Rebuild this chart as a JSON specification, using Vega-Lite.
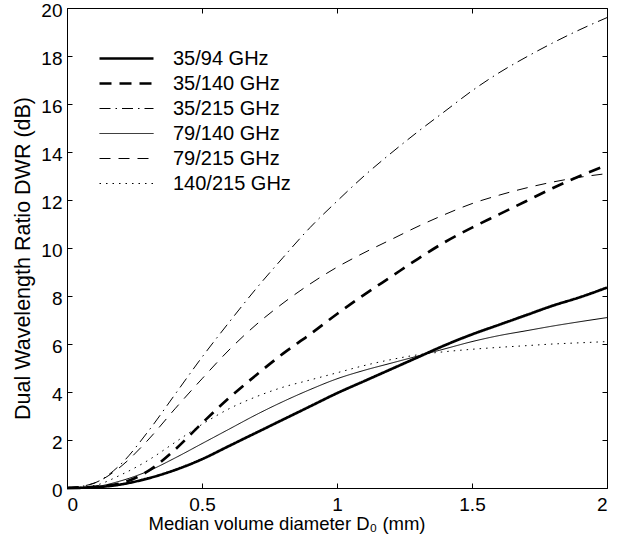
{
  "$schema": "https://vega.github.io/schema/vega-lite/v6.json",
  "width": 540,
  "height": 480,
  "autosize": {"type": "none"},
  "padding": {"left": 67, "top": 8, "right": 14, "bottom": 62},
  "background": "white",
  "config": {
    "font": "Liberation Sans",
    "view": {"stroke": null},
    "axis": {
      "grid": false,
      "domainColor": "black",
      "tickColor": "black",
      "labelColor": "black",
      "titleColor": "black",
      "labelFont": "Liberation Sans",
      "titleFont": "Liberation Sans",
      "titleFontWeight": "normal",
      "labelFontSize": 19,
      "tickSize": -5,
      "domainWidth": 1,
      "tickWidth": 1
    }
  },
  "data": {
    "values": [
      {"d": 0.0, "a": 0, "b": 0, "c": 0, "e": 0, "f": 0, "g": 0},
      {"d": 0.1, "a": 0.03, "b": 0.05, "c": 0.2, "e": 0.05, "f": 0.2, "g": 0.1},
      {"d": 0.2, "a": 0.15, "b": 0.2, "c": 1.0, "e": 0.3, "f": 0.9, "g": 0.55},
      {"d": 0.3, "a": 0.4, "b": 0.7, "c": 2.35, "e": 0.7, "f": 2.0, "g": 1.15},
      {"d": 0.4, "a": 0.75, "b": 1.6, "c": 3.9, "e": 1.25, "f": 3.3, "g": 1.9},
      {"d": 0.5, "a": 1.2, "b": 2.7, "c": 5.45, "e": 1.85, "f": 4.55, "g": 2.65},
      {"d": 0.6, "a": 1.75, "b": 3.75, "c": 6.9, "e": 2.45, "f": 5.75, "g": 3.3},
      {"d": 0.7, "a": 2.3, "b": 4.7, "c": 8.3, "e": 3.05, "f": 6.8, "g": 3.8},
      {"d": 0.8, "a": 2.85, "b": 5.6, "c": 9.6, "e": 3.6, "f": 7.7, "g": 4.2},
      {"d": 0.9, "a": 3.4, "b": 6.4, "c": 10.85, "e": 4.1, "f": 8.5, "g": 4.5},
      {"d": 1.0, "a": 3.95, "b": 7.25, "c": 11.95, "e": 4.55, "f": 9.2, "g": 4.8},
      {"d": 1.1, "a": 4.45, "b": 8.05, "c": 13.0, "e": 4.9, "f": 9.8, "g": 5.1},
      {"d": 1.2, "a": 4.95, "b": 8.8, "c": 13.95, "e": 5.2, "f": 10.35, "g": 5.35},
      {"d": 1.3, "a": 5.45, "b": 9.55, "c": 14.85, "e": 5.5, "f": 10.9, "g": 5.55},
      {"d": 1.4, "a": 5.95, "b": 10.25, "c": 15.7, "e": 5.8, "f": 11.4, "g": 5.68},
      {"d": 1.5, "a": 6.4, "b": 10.85, "c": 16.55, "e": 6.1, "f": 11.85, "g": 5.78},
      {"d": 1.6, "a": 6.8, "b": 11.4, "c": 17.3, "e": 6.35, "f": 12.2, "g": 5.86},
      {"d": 1.7, "a": 7.2, "b": 11.95, "c": 17.95, "e": 6.55, "f": 12.5, "g": 5.93},
      {"d": 1.8, "a": 7.6, "b": 12.5, "c": 18.55, "e": 6.75, "f": 12.75, "g": 6.0},
      {"d": 1.9, "a": 7.95, "b": 13.0, "c": 19.1, "e": 6.93, "f": 12.95, "g": 6.05},
      {"d": 2.0, "a": 8.35, "b": 13.45, "c": 19.6, "e": 7.1, "f": 13.1, "g": 6.1}
    ]
  },
  "transform": [
    {"fold": ["a", "b", "c", "e", "f", "g"], "as": ["key", "dwr"]},
    {"lookup": "key", "from": {"data": {"values": [
      {"key": "a", "series": "35/94 GHz"},
      {"key": "b", "series": "35/140 GHz"},
      {"key": "c", "series": "35/215 GHz"},
      {"key": "e", "series": "79/140 GHz"},
      {"key": "f", "series": "79/215 GHz"},
      {"key": "g", "series": "140/215 GHz"}
    ]}, "key": "key", "fields": ["series"]}}
  ],
  "layer": [
    {
      "mark": {"type": "line", "color": "black", "interpolate": "monotone"},
      "encoding": {
        "x": {
          "field": "d", "type": "quantitative",
          "scale": {"domain": [0, 2], "nice": false, "zero": false},
          "axis": {
            "orient": "bottom",
            "values": [0, 0.5, 1, 1.5, 2],
            "format": "~g",
            "labelPadding": 12,
            "title": "Median volume diameter  D₀ (mm)",
            "titleFontSize": 18.5,
            "titleAlign": "left",
            "titleBaseline": "alphabetic",
            "titleX": 81,
            "titleY": 41
          }
        },
        "y": {
          "field": "dwr", "type": "quantitative",
          "scale": {"domain": [0, 20], "nice": false},
          "axis": {
            "orient": "left",
            "values": [0, 2, 4, 6, 8, 10, 12, 14, 16, 18, 20],
            "labelPadding": 10,
            "labelOffset": 2,
            "title": "Dual Wavelength Ratio DWR (dB)",
            "titleFontSize": 21.5,
            "titleAngle": -90,
            "titleAlign": "center",
            "titleBaseline": "middle",
            "titleX": -44,
            "titleY": 250
          }
        },
        "strokeDash": {
          "field": "series", "type": "ordinal",
          "scale": {
            "domain": ["35/94 GHz", "35/140 GHz", "35/215 GHz", "79/140 GHz", "79/215 GHz", "140/215 GHz"],
            "range": [[1, 0], [12, 8], [11, 5, 1.5, 5], [1, 0], [11, 8], [1.5, 5]]
          },
          "legend": {
            "title": null,
            "orient": "none",
            "legendX": 31,
            "legendY": 38,
            "symbolType": "stroke",
            "symbolSize": 2916,
            "symbolStrokeColor": "black",
            "labelFontSize": 20,
            "labelFont": "Liberation Sans",
            "labelColor": "black",
            "labelOffset": 18,
            "clipHeight": 25,
            "rowPadding": 0,
            "padding": 0
          }
        },
        "strokeWidth": {
          "field": "series", "type": "ordinal",
          "scale": {
            "type": "ordinal",
            "domain": ["35/94 GHz", "35/140 GHz", "35/215 GHz", "79/140 GHz", "79/215 GHz", "140/215 GHz"],
            "range": [2.7, 2.7, 1, 1, 1, 1]
          },
          "legend": {
            "title": null,
            "orient": "none",
            "legendX": 31,
            "legendY": 38,
            "symbolType": "stroke",
            "symbolSize": 2916,
            "symbolStrokeColor": "black",
            "labelFontSize": 20,
            "labelFont": "Liberation Sans",
            "labelColor": "black",
            "labelOffset": 18,
            "clipHeight": 25,
            "rowPadding": 0,
            "padding": 0
          }
        }
      }
    },
    {
      "mark": {"type": "point", "opacity": 0},
      "encoding": {
        "x": {
          "field": "d", "type": "quantitative",
          "axis": {"orient": "top", "labels": false, "title": null, "values": [0, 0.5, 1, 1.5, 2]}
        },
        "y": {
          "field": "dwr", "type": "quantitative",
          "axis": {"orient": "right", "labels": false, "title": null, "values": [0, 2, 4, 6, 8, 10, 12, 14, 16, 18, 20]}
        }
      }
    }
  ],
  "resolve": {"axis": {"x": "independent", "y": "independent"}}
}
